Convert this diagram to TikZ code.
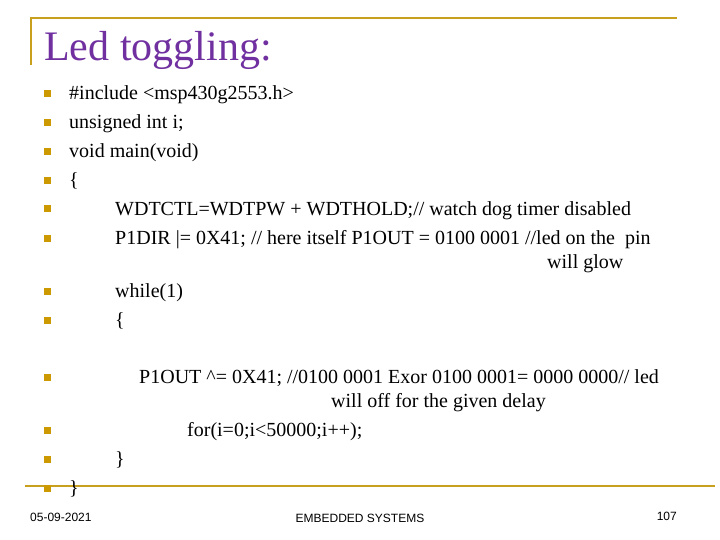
\documentclass[tikz,border=0pt]{standalone}
\usepackage{fontspec}
\setmainfont{Liberation Serif}
\newfontfamily\footfont{Liberation Sans}
\definecolor{gold}{RGB}{200,160,30}
\definecolor{bul}{RGB}{204,153,0}
\definecolor{ttl}{RGB}{112,48,160}
\begin{document}
\begin{tikzpicture}[x=1pt,y=-1pt,
  code/.style={anchor=base west,inner sep=0,font=\fontsize{20}{22}\selectfont},
  bullet/.style={fill=bul,minimum size=7pt,inner sep=0},
  foot/.style={inner sep=0,font=\footfont\fontsize{12}{13}\selectfont}]
\useasboundingbox (0,0) rectangle (720,540);
\draw[gold,line width=2.5pt] (30,18) -- (677,18);
\draw[gold,line width=2.5pt] (31,17) -- (31,65);
\draw[gold,line width=2.5pt] (25,486) -- (715,486);
\node[anchor=base west,inner sep=0,text=ttl,font=\fontsize{42}{46}\selectfont] (t) at (44,61) {Led toggling:};
\foreach \y [count=\i] in {94,123,152,181,209,238,291,320,377,430,459,488}
  \node[bullet] (b\i) at (47,\y) {};
\node[code] (l1) at (69,100) {\#include <msp430g2553.h>};
\node[code] (l2) at (69,129) {unsigned int i;};
\node[code] (l3) at (69,158) {void main(void)};
\node[code] (l4) at (69,187) {\{};
\node[code] (l5) at (115,215) {WDTCTL=WDTPW + WDTHOLD;// watch dog timer disabled};
\node[code] (l6) at (115,244) {P1DIR |= 0X41; // here itself P1OUT = 0100 0001 //led on the\ \ pin};
\node[code] (l6b) at (547,268) {will glow};
\node[code] (l7) at (115,297) {while(1)};
\node[code] (l8) at (115,326) {\{};
\node[code] (l9) at (139,383) {P1OUT \^{}= 0X41; //0100 0001 Exor 0100 0001= 0000 0000// led};
\node[code] (l9b) at (331,407) {will off for the given delay};
\node[code] (l10) at (187,436) {for(i=0;i<50000;i++);};
\node[code] (l11) at (115,465) {\}};
\node[code] (l12) at (69,494) {\}};
\node[foot,anchor=west] (d) at (30,517) {05-09-2021};
\node[foot] (e) at (360,518) {EMBEDDED SYSTEMS};
\node[foot,anchor=east] (p) at (677,516) {107};
\end{tikzpicture}
\end{document}
